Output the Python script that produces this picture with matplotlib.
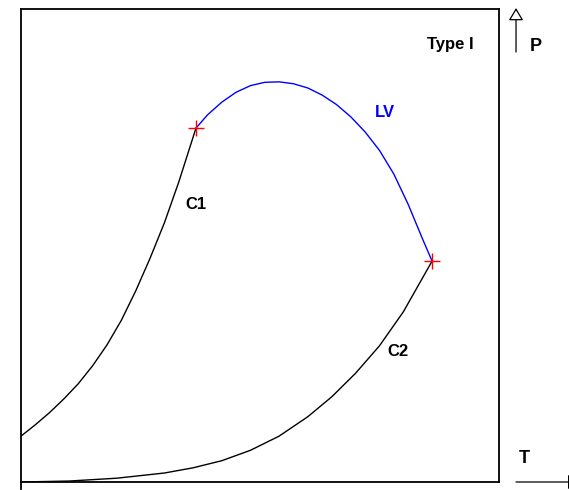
import matplotlib.pyplot as plt

# curve points (T, P in 0..100 units)
c1_t = [0, 3, 6, 9, 12, 15, 18, 21, 24, 27, 30, 33, 36.6]
c1_p = [9.7, 12.1, 14.7, 17.6, 20.8, 24.6, 29.0, 34.2, 40.4, 47.3, 54.8, 63.4, 74.8]

c2_t = [0, 10, 20, 30, 36, 42, 48, 54, 60, 65, 70, 75, 80, 86.0]
c2_p = [0, 0.2, 0.8, 1.9, 3.0, 4.5, 6.7, 9.7, 13.8, 18.0, 23.0, 28.8, 36.0, 46.7]

lv_t = [36.6, 39, 42, 45, 48, 51, 54, 57, 60, 63, 66, 69, 72, 75, 78, 81, 84, 86.0]
lv_p = [74.8, 77.6, 80.3, 82.4, 83.8, 84.5, 84.6, 84.2, 83.3, 81.8, 79.8, 77.2,
        74.0, 70.1, 65.1, 58.7, 51.4, 46.7]

crit_t = [36.6, 86.0]
crit_p = [74.8, 46.7]

plt.rcParams["font.family"] = ["Liberation Sans", "DejaVu Sans"]

W, H = 569, 490
fig = plt.figure(figsize=(W / 100, H / 100), dpi=100)
ax = fig.add_axes([21 / W, 8 / H, 478 / W, 473 / H])
ax.set_xlim(0, 100)
ax.set_ylim(0, 100)
ax.set_xticks([])
ax.set_yticks([])
for s in ax.spines.values():
    s.set_linewidth(1.3)
    s.set_color("black")

ax.plot(c1_t, c1_p, color="black", lw=1.0)
ax.plot(c2_t, c2_p, color="black", lw=1.0)
ax.plot(lv_t, lv_p, color="blue", lw=1.0)
ax.plot(crit_t, crit_p, ls="none", marker="+", color="red", ms=11, mew=1.0)

bold = dict(fontsize=12, fontweight="bold")
ax.text(89.9, 92.4, "Type I", ha="center", va="center", **bold)
ax.text(76.2, 78.2, "LV", ha="center", va="center", color="blue", **bold)
ax.text(36.6, 58.6, "C1", ha="center", va="center", **bold)
ax.text(78.9, 27.5, "C2", ha="center", va="center", **bold)

# little corner extensions of the frame
ax.plot([-0.019, 0], [100, 100], color="black", lw=1.3, clip_on=False)
ax.plot([-0.019, 0], [0, 0], color="black", lw=1.3, clip_on=False)
ax.plot([0, 0], [0, -1.5], color="black", lw=1.3, clip_on=False)

# axis arrows outside the box
arrow = dict(arrowstyle="-|>,head_length=0.75,head_width=0.45", fc="white",
             ec="black", lw=0.9, shrinkA=0, shrinkB=0)
ax.annotate("", xy=(1.0356, 1.002), xytext=(1.0356, 0.909),
            xycoords="axes fraction", arrowprops=arrow, annotation_clip=False)
ax.annotate("", xy=(1.17, 0.0), xytext=(1.0356, 0.0),
            xycoords="axes fraction", arrowprops=arrow, annotation_clip=False)
ax.text(1.077, 0.92, "P", transform=ax.transAxes, ha="center", va="center",
        fontsize=13, fontweight="bold")
ax.text(1.053, 0.05, "T", transform=ax.transAxes, ha="center", va="center",
        fontsize=13, fontweight="bold")

fig.savefig("out.png", dpi=100)
